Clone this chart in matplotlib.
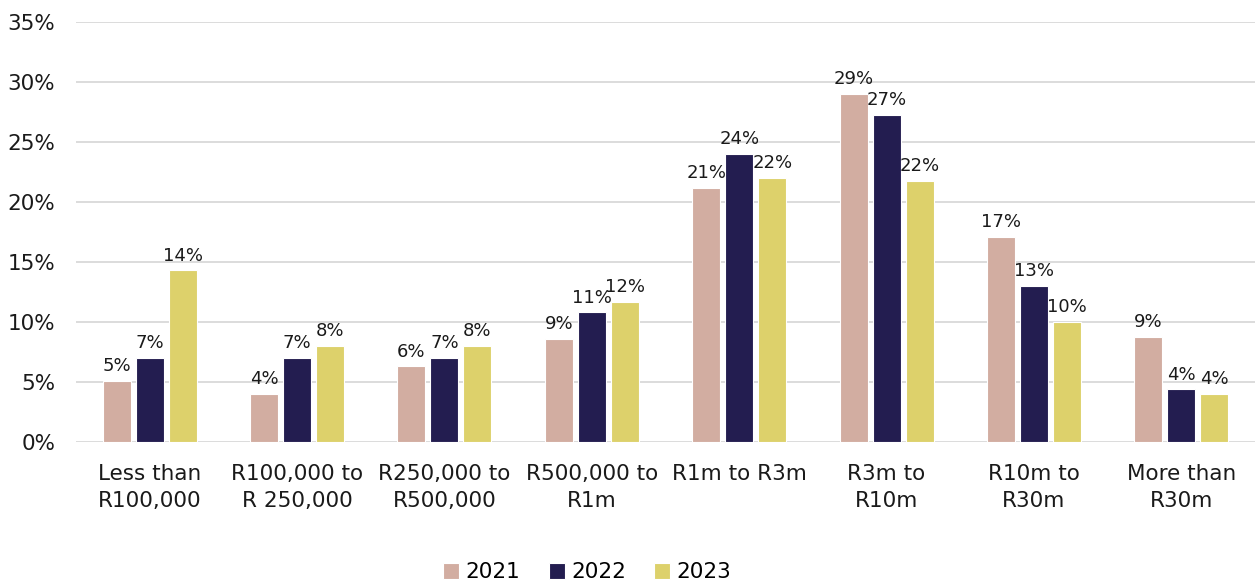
import numpy as np
import matplotlib.pyplot as plt

categories = ["Less than\nR100,000", "R100,000 to\nR 250,000", "R250,000 to\nR500,000",
              "R500,000 to\nR1m", "R1m to R3m", "R3m to\nR10m", "R10m to\nR30m", "More than\nR30m"]
years = ["2021", "2022", "2023"]
v2021 = [5.1, 4.0, 6.3, 8.6, 21.2, 29.0, 17.1, 8.75]
v2022 = [7.0, 7.0, 7.0, 10.8, 24.0, 27.25, 13.0, 4.4]
v2023 = [14.3, 8.0, 8.0, 11.7, 22.0, 21.75, 10.0, 4.0]
colors = ["#D2ADA1", "#231D50", "#DDD16B"]

plt.rcParams['font.family'] = ['DejaVu Sans']
fig = plt.figure(figsize=(12.55, 5.84), dpi=100)
ax = fig.add_axes([0.0606, 0.2432, 0.9394, 0.7191])

x = np.arange(len(categories))
w = 0.19
step = 0.224
for i, (vals, yr, c) in enumerate(zip([v2021, v2022, v2023], years, colors)):
    pos = x + (i - 1) * step
    bars = ax.bar(pos, vals, w, color=c, edgecolor="white", linewidth=0.8, label=yr, zorder=3)
    for b, v in zip(bars, vals):
        ax.annotate(f"{v:.0f}%", (b.get_x() + b.get_width() / 2, v),
                    xytext=(0, 4), textcoords="offset points",
                    ha="center", va="bottom", fontsize=13, color="#1a1a1a")

ax.set_xlim(-0.5, len(categories) - 0.5)
ax.set_ylim(0, 35)
ax.set_yticks(range(0, 36, 5))
ax.set_yticklabels([f"{t}%" for t in range(0, 36, 5)])
ax.set_xticks(x)
ax.set_xticklabels(categories, linespacing=1.45)
ax.grid(axis="y", color="#d9d9d9", linewidth=1.3, zorder=0)
for s in ax.spines.values():
    s.set_visible(False)
ax.tick_params(axis="both", length=0, labelsize=15.5, colors="#1a1a1a")
ax.tick_params(axis="x", pad=16)
ax.tick_params(axis="y", pad=15)

fig.legend(loc="lower center", ncol=3, frameon=False, fontsize=15.5,
           bbox_to_anchor=(0.468, -0.03), handlelength=0.75, handleheight=0.75,
           handletextpad=0.3, columnspacing=1.3)

fig.savefig("out.png", dpi=100)
